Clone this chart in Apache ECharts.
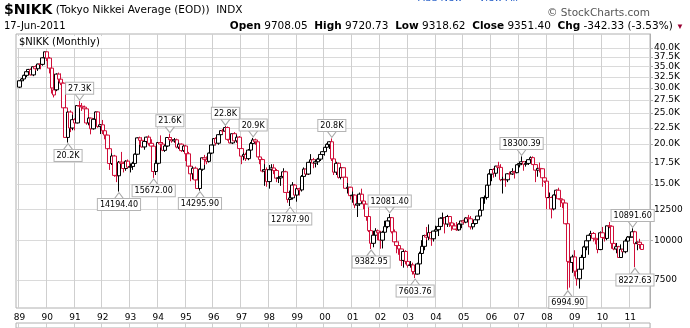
<!DOCTYPE html>
<html><head><meta charset="utf-8">
<script src="https://cdn.jsdelivr.net/npm/echarts@6/dist/echarts.min.js"></script>
<style>html,body{margin:0;padding:0;background:#fff}#c{width:690px;height:328px}</style>
</head><body><div id="c"></div>
<script>
// Monthly candles, Jan 1989 .. Jun 2011 (one line per year)
const opens = [
30159,31581,31985,32838,33713,34266,32948,34954,34431,35636,35549,37268,
38916,37189,34591,28500,29584,33131,31940,31036,25978,20984,25194,22455,
23849,23293,26409,26292,26111,25790,23291,24121,22336,23916,25222,22687,
22984,22023,21339,19346,17391,18348,15952,15910,17555,17400,16767,17684,
16925,17024,17398,18591,20919,20553,19590,20380,21028,20106,19703,16408,
17417,20229,19997,19112,19725,20974,20644,20462,20629,19564,19990,19076,
19723,18650,17053,16140,16807,15437,14517,16678,18117,17913,17655,18744,
19868,20813,20125,21406,22041,21956,22531,20692,20167,21556,20466,21020,
19361,18330,18557,18003,19151,20069,20605,20331,18229,17888,16459,16636,
15259,16628,16832,16527,15641,15671,15831,16379,14108,13406,13565,14884,
13842,14499,14368,15837,16702,16112,17530,17862,17437,17605,17942,18558,
18934,19540,19960,20337,17974,16332,17411,15727,16861,15747,14539,14649,
13786,13843,12884,12999,13934,13262,12969,11861,10714,9775,10366,10697,
10543,9998,10588,11025,11493,11764,10622,9877,9619,9383,8640,9216,
8579,8340,8363,7973,7831,8425,9083,9563,10344,10219,10560,10101,
10677,10784,11042,11715,11762,11236,11859,11326,11082,10824,10771,11231,
11489,11388,11741,11669,11009,11277,11584,11900,12414,13574,13607,14872,
16111,16650,16206,17060,16906,15467,15505,15457,16141,16128,16399,16274,
17226,17383,17604,17288,17400,17876,18138,17249,16569,16786,16738,15681,
15308,13593,13603,12526,13850,14339,13481,13377,13073,11260,8577,8512,
8860,7994,7568,8110,8828,9523,9958,10357,10493,10133,10035,9346,
10546,10198,10126,11090,11057,9768,9383,9537,8824,9369,9202,9937,
10229,10238,10624,9755,9850,9694
];
const highs = [
31700,32200,33000,33800,34400,34500,35000,35300,35700,35900,37400,38957,
38950,37500,34800,30300,33330,33500,33300,31200,26500,25300,25500,24700,
24100,26500,27270,26900,26400,25900,24300,24200,24100,25300,25300,23100,
23800,22300,21400,19600,18700,18500,16500,17700,18900,17600,17800,17900,
17400,17600,18700,21000,21100,21000,20700,21100,21300,20700,19900,17800,
20300,21300,20300,19900,21000,21552,21000,20900,20800,20200,20100,19800,
19900,18900,17200,17000,17000,15600,16800,18200,18500,18300,18800,19900,
20900,21000,21500,22100,22300,22750,22700,21500,21600,21800,21400,21200,
19500,18800,18800,19300,20300,20910,20800,20400,18700,18000,17300,16900,
17200,17300,17300,16700,15900,15900,16800,16500,14500,14300,15200,15000,
14600,14600,16000,16900,17300,17600,18600,18100,17900,18100,18800,19000,
19600,20100,20400,20833,18000,17600,17500,16900,16900,16200,15100,14700,
14200,13900,13100,14100,14500,13500,13000,12100,10800,10700,10900,10800,
10700,10700,11500,11700,12081.40,11800,10800,10000,9900,9400,9300,9300,
8800,8600,8500,8200,8500,9200,10000,10400,11000,11200,10600,10700,
11100,11100,11800,12200,11800,12000,11900,11400,11300,11400,11300,11500,
11600,11800,12000,11900,11300,11700,11900,12500,13600,13800,14900,16200,
16700,16800,17100,17600,17300,15800,15600,16200,16400,16800,16500,17300,
17600,18300.39,17700,17700,17900,18300,18300,17300,16800,17500,16800,16300,
15350,14100,13700,13900,14400,14600,13700,13400,13100,11300,9500,9000,
9300,8000,8700,9000,9600,10200,10400,10700,10600,10300,10100,10650,
11000,10400,11100,11400,11100,10200,9800,9600,9700,9700,10100,10300,
10600,10891.60,10700,9900,10100,9720.73
];
const lows = [
29960,31100,31500,32400,33250,32800,32650,33950,33900,34300,35200,37100,
36400,33300,28800,28000,29300,31400,30600,25800,20900,20221,21800,22100,
22083,23200,25900,25400,25000,23000,22900,21456,22200,23800,22500,21500,
21500,20700,19000,16600,17200,15800,15200,14194.40,17200,16300,16500,16800,
16300,16600,17000,18500,19900,19500,19200,20000,19800,19500,15672.00,16000,
17300,19500,19000,18900,19600,20500,20200,20200,19400,19300,18900,18900,
17700,16900,15300,15500,15400,14500,14295.90,16500,17200,17300,17500,18600,
19700,19800,19900,21200,21500,21800,20500,20100,20000,20400,20200,19200,
17300,17800,17700,17800,19000,19900,19900,18200,17300,16300,14800,14700,
14500,16100,16100,15200,15100,14800,15800,14100,13100,12787.90,13400,13700,
13200,13800,14200,15700,16000,16000,17400,16800,16900,17200,17700,18300,
18400,19100,19300,17700,16000,16000,15600,15500,15500,14500,14000,13400,
13100,12600,11819,12800,13200,12500,11500,10600,9382.95,9500,10100,10000,
9400,9420,10500,10900,11300,10500,9800,9100,9000,8300,8200,8400,
8200,8200,7800,7603.76,7800,8400,9000,9300,10000,10000,9600,9900,
10500,10300,10800,11600,10500,11000,11000,10700,10800,10700,10700,10900,
11200,11300,11500,10800,10800,11200,11500,11700,12300,13000,13400,14700,
15300,15700,15800,16800,15300,14000,14700,15200,15600,16000,15600,16200,
16900,17200,16500,17000,17200,17600,17200,15200,15800,16300,14700,15100,
12500,12600,11700,12400,13500,13400,12700,12600,11200,6994.90,7100,7900,
7700,7200,7054,7900,8600,9300,9000,10100,9900,9700,9100,9300,
10100,9900,10000,10900,9400,9300,9100,8800,8800,9200,9100,9900,
10200,10200,8227.63,9300,9400,9318.62
];
const closes = [
31581,31985,32838,33713,34266,32948,34954,34431,35636,35549,37268,38916,
37189,34591,29980,29584,33131,31940,31036,25978,20984,25194,22455,23849,
23293,26409,26292,26111,25790,23291,24121,22336,23916,25222,22687,22984,
22023,21339,19346,17391,18348,15952,15910,17555,17400,16767,17684,16925,
17024,17398,18591,20919,20553,19590,20380,21028,20106,19703,16408,17417,
20229,19997,19112,19725,20974,20644,20462,20629,19564,19990,19076,19723,
18650,17053,16140,16807,15437,14517,16678,18117,17913,17655,18744,19868,
20813,20125,21406,22041,21956,22531,20692,20167,21556,20466,21020,19361,
18330,18557,18003,19151,20069,20605,20331,18229,17888,16459,16636,15259,
16628,16832,16527,15641,15671,15831,16379,14108,13406,13565,14884,13842,
14499,14368,15837,16702,16112,17530,17862,17437,17605,17942,18558,18934,
19540,19960,20337,17974,16332,17411,15727,16861,15747,14539,14649,13786,
13843,12884,12999,13934,13262,12969,11861,10714,9775,10366,10697,10543,
9998,10588,11025,11493,11764,10622,9877,9619,9383,8640,9216,8579,
8340,8363,7973,7831,8425,9083,9563,10344,10219,10560,10101,10677,
10784,11042,11715,11762,11236,11859,11326,11082,10824,10771,11231,11489,
11388,11741,11669,11009,11277,11584,11900,12414,13574,13607,14872,16111,
16650,16206,17060,16906,15467,15505,15457,16141,16128,16399,16274,17226,
17383,17604,17288,17400,17876,18138,17249,16569,16786,16738,15681,15308,
13593,13603,12526,13850,14339,13481,13377,13073,11260,8577,8512,8860,
7994,7568,8110,8828,9523,9958,10357,10493,10133,10035,9346,10546,
10198,10126,11090,11057,9768,9383,9537,8824,9369,9202,9937,10229,
10238,10624,9755,9850,9694,9351.40
];
const prevCloseStart = 30159;            // Dec 1988 close
const firstYear = 1989;
const padBefore = ['1988-12'];
const padAfter = ['2011-07', '2011-08', '2011-09'];
const yTicks = [7500, 10000, 12500, 15000, 17500, 20000, 22500, 25000, 27500, 30000, 32500, 35000, 37500, 40000];
const highMarks = ['1991-03', '1994-06', '1996-06', '1997-06', '2000-04', '2002-05', '2007-02', '2011-02'];
const lowMarks = ['1990-10', '1992-08', '1993-11', '1995-07', '1998-10', '2001-09', '2003-04', '2008-10', '2011-03'];

// ---- build ----
const monthCats = closes.map((_, i) => {
  const y = firstYear + Math.floor(i / 12), m = i % 12 + 1;
  return y + '-' + (m < 10 ? '0' + m : m);
});
const categories = padBefore.concat(monthCats, padAfter);
const RED = '#d0103a', BLK = '#000000';
const candles = padBefore.map(() => '-').concat(closes.map((c, i) => {
  const o = opens[i], pc = i === 0 ? prevCloseStart : closes[i - 1];
  const col = c >= pc ? BLK : RED;
  return {
    value: [o, c, lows[i], highs[i]],
    itemStyle: { color: '#ffffff', color0: col, borderColor: col, borderColor0: col }
  };
}), padAfter.map(() => '-'));

function fmtMark(v) { return v >= 20000 ? (v / 1000).toFixed(1) + 'K' : v.toFixed(2); }
function idxOf(cat) { return monthCats.indexOf(cat); }
const FONT = 'DejaVu Sans';
const markLabel = {
  show: true, formatter: '{b}', color: '#000', fontFamily: FONT, fontSize: 8,
  backgroundColor: '#fff', borderColor: '#b4b4b4', borderWidth: 1, padding: [2, 2, 1, 2], distance: 0
};
const markData = [];
highMarks.forEach(cat => {
  const v = highs[idxOf(cat)];
  markData.push({ coord: [cat, v], name: fmtMark(v), symbol: 'path://M0,0L5,6L10,0', symbolSize: [9, 6],
    symbolOffset: [0, -4], label: Object.assign({}, markLabel, { position: 'top' }) });
});
lowMarks.forEach(cat => {
  const v = lows[idxOf(cat)];
  markData.push({ coord: [cat, v], name: fmtMark(v), symbol: 'path://M0,6L5,0L10,6', symbolSize: [9, 6],
    symbolOffset: [0, 4], label: Object.assign({}, markLabel, { position: 'bottom' }) });
});

const isJan = (idx, val) => String(val).slice(5) === '01';
const chart = echarts.init(document.getElementById('c'), null, { renderer: 'canvas' });
chart.setOption({
  animation: false,
  backgroundColor: '#fff',
  grid: [
    { left: 16, right: 40, top: 34, bottom: 20, show: true, borderColor: '#b0b0b0', borderWidth: 1, backgroundColor: 'transparent' },
    { left: 16, right: 40, top: 323, height: 20, show: true, borderColor: '#b0b0b0', borderWidth: 1 }
  ],
  xAxis: [{
    type: 'category', data: categories, gridIndex: 0, boundaryGap: true,
    axisLine: { show: false }, axisTick: { show: false },
    axisLabel: { interval: isJan, formatter: v => v.slice(2, 4), color: '#000', fontFamily: FONT, fontSize: 9, margin: 5 },
    splitLine: { show: true, interval: isJan, lineStyle: { color: '#cfcfcf', width: 1 } }
  }, {
    type: 'category', data: categories, gridIndex: 1, boundaryGap: true,
    axisLine: { show: false }, axisTick: { show: false }, axisLabel: { show: false },
    splitLine: { show: true, interval: isJan, lineStyle: { color: '#cfcfcf', width: 1 } }
  }],
  yAxis: [{
    type: 'log', logBase: 10, min: 6130, max: 44250, position: 'right', gridIndex: 0,
    axisLine: { show: true, lineStyle: { color: '#b0b0b0' } },
    axisTick: { show: true, length: 3, customValues: yTicks, lineStyle: { color: '#b0b0b0' } },
    axisLabel: { customValues: yTicks, color: '#000', fontFamily: FONT, fontSize: 9, margin: 4,
      formatter: v => v >= 15000 ? (v / 1000).toFixed(1) + 'K' : String(Math.round(v)) },
    splitLine: { show: true, lineStyle: { color: '#dadada', width: 1 } },
    minorTick: { show: false }, minorSplitLine: { show: false }
  }, {
    type: 'value', gridIndex: 1, show: false, min: 0, max: 1
  }],
  series: [{
    type: 'candlestick', xAxisIndex: 0, yAxisIndex: 0, data: candles, barWidth: 4,
    itemStyle: { borderWidth: 1 },
    markPoint: { data: markData, itemStyle: { color: '#fff', borderColor: '#a8a8a8', borderWidth: 1 }, z: 10 }
  }],
  graphic: [
    { type: 'text', left: 4, top: 3, style: { text: '{t|$NIKK} {s|(Tokyo Nikkei Average (EOD))}  {s|INDX}',
      rich: { t: { fontFamily: FONT, fontWeight: 'bold', fontSize: 14, fill: '#000' }, s: { fontFamily: FONT, fontSize: 10.5, fill: '#000' } } } },
    { type: 'text', left: 4, top: 21, style: { text: '17-Jun-2011', fontFamily: FONT, fontSize: 10, fill: '#000' } },
    { type: 'text', right: 40, top: 8, style: { text: '\u00a9 StockCharts.com', fontFamily: FONT, fontSize: 10.5, fill: '#555' } },
    { type: 'text', left: 418, top: -7, style: { text: 'Add New  -  View All', fontFamily: FONT, fontSize: 10, fill: '#2a62c9' } },
    { type: 'text', right: 6, top: 21, style: {
      text: '{b|Open} 9708.05  {b|High} 9720.73  {b|Low} 9318.62  {b|Close} 9351.40  {b|Chg} -342.33 (-3.53%) {r|\u25bc}',
      fontFamily: FONT, fontSize: 10.5, fill: '#000',
      rich: { b: { fontFamily: FONT, fontWeight: 'bold', fontSize: 10.5, fill: '#000' }, r: { fontSize: 8, fill: '#990033' } } } },
    { type: 'text', left: 18, top: 36, z: 100, style: { text: '$NIKK (Monthly)', fontFamily: FONT, fontSize: 10, fill: '#000',
      backgroundColor: '#fff', padding: [1, 2, 1, 1] } }
  ]
});
</script></body></html>
